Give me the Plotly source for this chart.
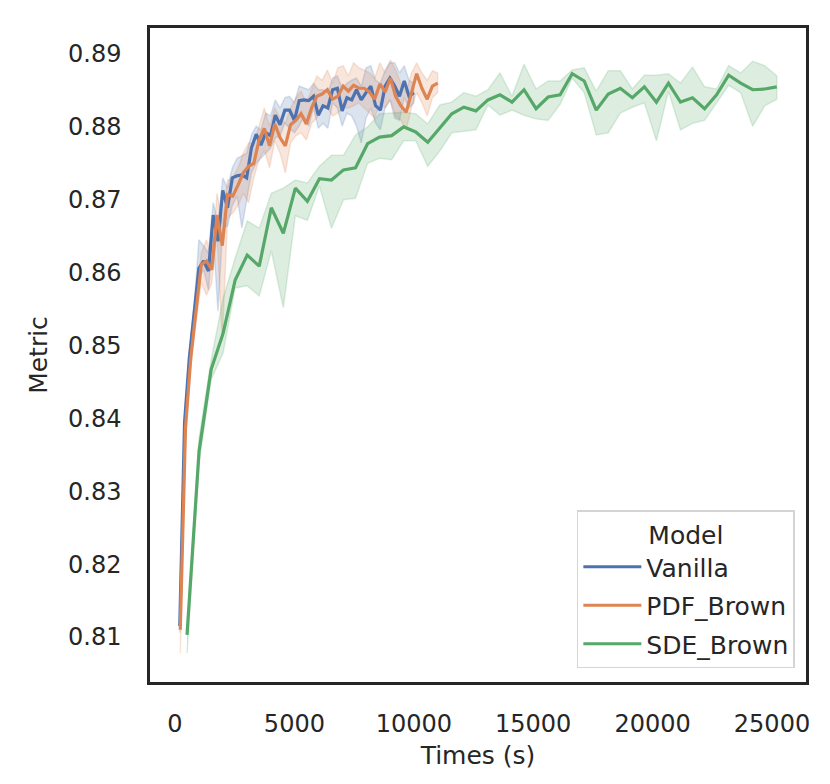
import plotly.graph_objects as go

# ---------------- data ----------------
models = ["Vanilla", "PDF_Brown", "SDE_Brown"]

vanilla_t = [200, 400, 600, 800, 1000, 1200, 1400, 1600, 1800, 2000, 2200, 2400, 2600, 2800, 3000,
             3200, 3400, 3600, 3800, 4000, 4200, 4400, 4600, 4800, 5000, 5200, 5400, 5600, 5800, 6000,
             6200, 6400, 6600, 6800, 7000, 7200, 7400, 7600, 7800, 8000, 8200, 8400, 8600, 8800, 9000,
             9200, 9400, 9600, 9800, 10000]
vanilla_mean = [0.8115, 0.8394, 0.8483, 0.8541, 0.8606, 0.8616, 0.8602, 0.8679, 0.8643, 0.8713,
                0.8689, 0.8730, 0.8733, 0.8734, 0.8730, 0.8771, 0.8790, 0.8775, 0.8792, 0.8788,
                0.8816, 0.8803, 0.8823, 0.8823, 0.8809, 0.8836, 0.8837, 0.8836, 0.8842, 0.8816,
                0.8829, 0.8826, 0.8851, 0.8853, 0.8822, 0.8840, 0.8837, 0.8851, 0.8837, 0.8847,
                0.8856, 0.8829, 0.8823, 0.8856, 0.8867, 0.8856, 0.8842, 0.8863, 0.8842, 0.8847]
vanilla_hi = [0.8124, 0.8401, 0.8490, 0.8554, 0.8645, 0.8637, 0.8627, 0.8696, 0.8668, 0.8730,
              0.8716, 0.8744, 0.8757, 0.8760, 0.8764, 0.8789, 0.8801, 0.8796, 0.8819, 0.8815,
              0.8837, 0.8826, 0.8840, 0.8842, 0.8833, 0.8856, 0.8853, 0.8851, 0.8860, 0.8851,
              0.8851, 0.8847, 0.8867, 0.8870, 0.8853, 0.8860, 0.8864, 0.8867, 0.8856, 0.8881,
              0.8884, 0.8864, 0.8860, 0.8878, 0.8888, 0.8888, 0.8874, 0.8884, 0.8864, 0.8860]
vanilla_lo = [0.8106, 0.8387, 0.8476, 0.8535, 0.8593, 0.8604, 0.8576, 0.8648, 0.8547, 0.8661,
              0.8664, 0.8692, 0.8705, 0.8661, 0.8696, 0.8737, 0.8750, 0.8757, 0.8764, 0.8771,
              0.8785, 0.8788, 0.8805, 0.8798, 0.8792, 0.8801, 0.8815, 0.8801, 0.8826, 0.8798,
              0.8805, 0.8798, 0.8833, 0.8826, 0.8801, 0.8819, 0.8815, 0.8801, 0.8778, 0.8812,
              0.8826, 0.8805, 0.8796, 0.8826, 0.8837, 0.8812, 0.8809, 0.8840, 0.8826, 0.8833]

pdf_t = [220, 440, 660, 880, 1100, 1320, 1540, 1760, 1980, 2200, 2420, 2640, 2860, 3080, 3300,
         3520, 3740, 3960, 4180, 4400, 4620, 4840, 5060, 5280, 5500, 5720, 5940, 6160, 6380, 6600,
         6820, 7040, 7260, 7480, 7700, 7920, 8140, 8360, 8580, 8800, 9020, 9240, 9460, 9680, 9900,
         10120, 10340, 10560, 10780, 11000]
pdf_mean = [0.8110, 0.8387, 0.8483, 0.8545, 0.8611, 0.8616, 0.8604, 0.8679, 0.8637, 0.8707,
            0.8705, 0.8720, 0.8737, 0.8746, 0.8750, 0.8782, 0.8798, 0.8774, 0.8804, 0.8785,
            0.8774, 0.8803, 0.8809, 0.8818, 0.8804, 0.8826, 0.8842, 0.8845, 0.8851, 0.8838,
            0.8842, 0.8856, 0.8849, 0.8857, 0.8853, 0.8853, 0.8848, 0.8838, 0.8859, 0.8848,
            0.8867, 0.8842, 0.8829, 0.8820, 0.8847, 0.8873, 0.8853, 0.8838, 0.8856, 0.8860]
pdf_hi = [0.8117, 0.8398, 0.8494, 0.8558, 0.8627, 0.8645, 0.8620, 0.8709, 0.8668, 0.8727,
          0.8730, 0.8744, 0.8764, 0.8778, 0.8778, 0.8801, 0.8826, 0.8801, 0.8826, 0.8812,
          0.8805, 0.8826, 0.8840, 0.8849, 0.8833, 0.8851, 0.8870, 0.8864, 0.8878, 0.8860,
          0.8881, 0.8884, 0.8870, 0.8888, 0.8881, 0.8878, 0.8874, 0.8867, 0.8888, 0.8874,
          0.8892, 0.8878, 0.8860, 0.8847, 0.8874, 0.8888, 0.8874, 0.8864, 0.8877, 0.8874]
pdf_lo = [0.8078, 0.8376, 0.8469, 0.8531, 0.8586, 0.8569, 0.8586, 0.8654, 0.8506, 0.8675,
          0.8682, 0.8692, 0.8709, 0.8696, 0.8730, 0.8755, 0.8768, 0.8744, 0.8781, 0.8764,
          0.8737, 0.8778, 0.8788, 0.8792, 0.8782, 0.8805, 0.8812, 0.8826, 0.8826, 0.8815,
          0.8819, 0.8826, 0.8826, 0.8829, 0.8833, 0.8826, 0.8819, 0.8812, 0.8833, 0.8826,
          0.8837, 0.8815, 0.8809, 0.8796, 0.8826, 0.8847, 0.8833, 0.8815, 0.8840, 0.8847]

sde_t = [504, 1008, 1512, 2016, 2520, 3024, 3528, 4032, 4536, 5040, 5544, 6048, 6552, 7056, 7560,
         8064, 8568, 9072, 9576, 10080, 10584, 11088, 11592, 12096, 12600, 13104, 13608, 14112,
         14616, 15120, 15624, 16128, 16632, 17136, 17640, 18144, 18648, 19152, 19656, 20160,
         20664, 21168, 21672, 22176, 22680, 23184, 23688, 24192, 24696, 25200]
sde_mean = [0.8103, 0.8355, 0.8467, 0.8517, 0.8590, 0.8624, 0.8609, 0.8689, 0.8654, 0.8716,
            0.8698, 0.8729, 0.8727, 0.8741, 0.8744, 0.8777, 0.8786, 0.8788, 0.8800, 0.8793,
            0.8779, 0.8798, 0.8818, 0.8827, 0.8822, 0.8837, 0.8844, 0.8834, 0.8851, 0.8825,
            0.8841, 0.8844, 0.8873, 0.8863, 0.8823, 0.8845, 0.8853, 0.8840, 0.8855, 0.8834,
            0.8860, 0.8834, 0.8840, 0.8825, 0.8844, 0.8871, 0.8860, 0.8851, 0.8852, 0.8855]
sde_hi = [0.8113, 0.8373, 0.8480, 0.8565, 0.8620, 0.8671, 0.8661, 0.8709, 0.8716, 0.8727,
          0.8723, 0.8746, 0.8761, 0.8761, 0.8789, 0.8800, 0.8818, 0.8819, 0.8820, 0.8818,
          0.8804, 0.8830, 0.8834, 0.8847, 0.8842, 0.8851, 0.8874, 0.8842, 0.8886, 0.8852,
          0.8863, 0.8863, 0.8878, 0.8881, 0.8849, 0.8877, 0.8877, 0.8852, 0.8871, 0.8871,
          0.8873, 0.8860, 0.8882, 0.8855, 0.8852, 0.8884, 0.8874, 0.8890, 0.8884, 0.8870]
sde_lo = [0.8078, 0.8339, 0.8453, 0.8490, 0.8579, 0.8582, 0.8568, 0.8630, 0.8552, 0.8678,
          0.8672, 0.8719, 0.8661, 0.8700, 0.8702, 0.8750, 0.8757, 0.8755, 0.8781, 0.8781,
          0.8746, 0.8767, 0.8792, 0.8794, 0.8796, 0.8830, 0.8816, 0.8823, 0.8816, 0.8811,
          0.8809, 0.8831, 0.8867, 0.8847, 0.8789, 0.8792, 0.8819, 0.8827, 0.8833, 0.8781,
          0.8849, 0.8796, 0.8805, 0.8809, 0.8833, 0.8857, 0.8847, 0.8801, 0.8829, 0.8838]

x_ticks = [0, 5000, 10000, 15000, 20000, 25000]
y_ticks = [0.81, 0.82, 0.83, 0.84, 0.85, 0.86, 0.87, 0.88, 0.89]

colors = ["#4C72B0", "#DD8452", "#55A868"]
bands = ["rgba(76,114,176,0.2)", "rgba(221,132,82,0.2)", "rgba(85,168,104,0.2)"]

series = [
    (vanilla_t, vanilla_mean, vanilla_hi, vanilla_lo),
    (pdf_t, pdf_mean, pdf_hi, pdf_lo),
    (sde_t, sde_mean, sde_hi, sde_lo),
]

FONT = "DejaVu Sans"
TXT = "#262626"

fig = go.Figure()
for name, (t, m, hi, lo), c, b in zip(models, series, colors, bands):
    fig.add_trace(go.Scatter(
        x=list(t) + list(t)[::-1], y=list(hi) + list(lo)[::-1],
        fill="toself", fillcolor=b, mode="lines",
        line=dict(color=b, width=1.5), showlegend=False, hoverinfo="skip"))
for name, (t, m, hi, lo), c, b in zip(models, series, colors, bands):
    fig.add_trace(go.Scatter(
        x=t, y=m, mode="lines", name=name, legendgroup=name,
        line=dict(color=c, width=3.2)))

fig.update_layout(
    width=830, height=784,
    margin=dict(l=142, r=32, t=20, b=110),
    paper_bgcolor="white", plot_bgcolor="white",
    font=dict(family=FONT, color=TXT, size=24),
    legend=dict(
        title=dict(text="Model", side="top center", font=dict(size=25, family=FONT, color=TXT)),
        font=dict(size=25, family=FONT, color=TXT),
        x=0.983, y=0.0214, xanchor="right", yanchor="bottom",
        bgcolor="white", bordercolor="#d5d5d5", borderwidth=1.5,
        traceorder="grouped", tracegroupgap=3, itemwidth=58,
    ),
)
fig.update_xaxes(
    range=[-1047, 26424], tickvals=x_ticks, tickformat="d",
    showgrid=False, zeroline=False,
    showline=True, mirror=True, linecolor=TXT, linewidth=2.5,
    ticks="outside", ticklen=18, tickcolor="rgba(0,0,0,0)",
    tickfont=dict(size=24, family=FONT, color=TXT),
    title=dict(text="Times (s)", font=dict(size=25, family=FONT, color=TXT), standoff=10),
)
fig.update_yaxes(
    range=[0.80383, 0.89357], tickvals=y_ticks, tickformat=".2f",
    showgrid=False, zeroline=False,
    showline=True, mirror=True, linecolor=TXT, linewidth=2.5,
    ticks="outside", ticklen=21, tickcolor="rgba(0,0,0,0)",
    tickfont=dict(size=24, family=FONT, color=TXT),
    title=dict(text="Metric", font=dict(size=25, family=FONT, color=TXT), standoff=14),
)

fig.write_html("out.html")
